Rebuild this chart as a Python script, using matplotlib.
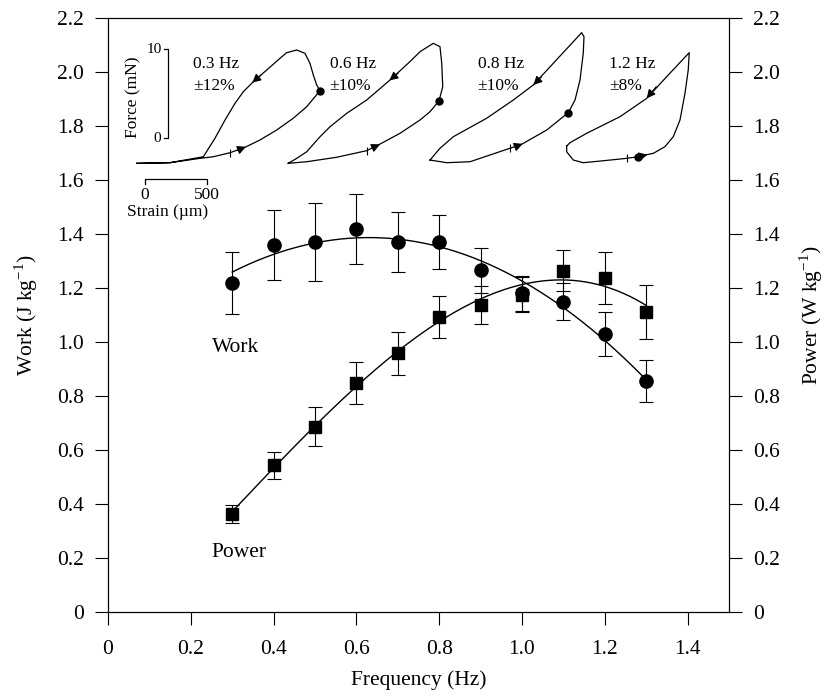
import numpy as np
import matplotlib
matplotlib.use('Agg')
import matplotlib.pyplot as plt

plt.rcParams['font.family'] = ['Liberation Serif', 'DejaVu Serif']
plt.rcParams['mathtext.fontset'] = 'custom'
plt.rcParams['mathtext.rm'] = 'Liberation Serif'

# Données principales
freq = [0.3, 0.4, 0.5, 0.6, 0.7, 0.8, 0.9, 1.0, 1.1, 1.2, 1.3]
work = [1.22, 1.36, 1.37, 1.42, 1.37, 1.37, 1.265, 1.18, 1.15, 1.03, 0.855]
work_err = [0.115, 0.13, 0.145, 0.13, 0.11, 0.10, 0.085, 0.065, 0.07, 0.08, 0.077]
power = [0.363, 0.544, 0.686, 0.849, 0.958, 1.091, 1.137, 1.175, 1.264, 1.236, 1.112]
power_err = [0.035, 0.05, 0.072, 0.077, 0.079, 0.078, 0.07, 0.065, 0.075, 0.096, 0.10]

x_ticks = [0, 0.2, 0.4, 0.6, 0.8, 1.0, 1.2, 1.4]
x_ticklabels = ['0', '0.2', '0.4', '0.6', '0.8', '1.0', '1.2', '1.4']
y_ticks = [0, 0.2, 0.4, 0.6, 0.8, 1.0, 1.2, 1.4, 1.6, 1.8, 2.0, 2.2]
y_ticklabels = ['0', '0.2', '0.4', '0.6', '0.8', '1.0', '1.2', '1.4', '1.6', '1.8', '2.0', '2.2']

# Boucles force-déformation (strain en µm, force en mN)
loop_03_strain = [-67, 200, 441, 548, 682, 802, 922, 1056, 1189, 1297, 1404, 1377, 1350, 1323,
                  1283, 1217, 1136, 1083, 976, 869, 789, 722, 642, 561, 468, 200, -67]
loop_03_force = [-2.81, -2.74, -2.25, -2.07, -1.62, -1.01, -0.19, 0.93, 2.25, 3.55, 5.35, 5.99, 7.11, 8.43,
                 9.55, 9.92, 9.62, 8.99, 7.67, 6.36, 5.24, 3.93, 2.06, 0.0, -2.07, -2.74, -2.81]
loop_06_strain = [1149, 1297, 1537, 1778, 1871, 2045, 2206, 2286, 2358, 2388, 2380, 2366, 2312,
                  2206, 2125, 1965, 1778, 1618, 1484, 1404, 1297, 1217, 1149]
loop_06_force = [-2.81, -2.63, -2.13, -1.39, -0.75, 0.56, 2.06, 2.99, 4.19, 5.80, 8.43, 10.29, 10.67,
                 9.73, 8.61, 6.55, 4.30, 2.81, 1.30, 0.18, -1.51, -2.25, -2.81]
loop_08_strain = [2286, 2420, 2607, 2927, 3021, 3222, 3395, 3449, 3489, 3515, 3521, 3502, 3435,
                  3275, 3114, 2954, 2740, 2473, 2366, 2286]
loop_08_force = [-2.44, -2.74, -2.63, -1.12, -0.67, 0.93, 2.88, 4.30, 6.55, 9.55, 11.42, 11.87, 10.85,
                 8.43, 5.99, 4.30, 2.25, 0.18, -1.12, -2.44]
loop_12_strain = [3382, 3382, 3435, 3515, 3676, 3863, 3956, 4010, 4077, 4170, 4237, 4291, 4331,
                  4357, 4365, 4184, 4024, 3810, 3542, 3409, 3382]
loop_12_force = [-0.87, -1.51, -2.44, -2.74, -2.52, -2.25, -2.07, -1.88, -1.69, -0.94, 0.18, 2.06, 5.06,
                 7.67, 9.62, 6.92, 4.49, 2.43, 0.56, -0.49, -0.87]

loops = [(loop_03_strain, loop_03_force), (loop_06_strain, loop_06_force),
         (loop_08_strain, loop_08_force), (loop_12_strain, loop_12_force)]
loop_labels = ['0.3 Hz\n±12%', '0.6 Hz\n±10%', '0.8 Hz\n±10%', '1.2 Hz\n±8%']
label_strain = [385, 1480, 2667, 3723]

dots_strain = [1404, 2358, 3395, 3956]
dots_force = [5.35, 4.19, 2.88, -2.07]
marks_strain = [682, 1778, 2927, 3863]
marks_force = [-1.62, -1.39, -1.12, -2.25]
# flèches (queue, pointe)
arrows = [((740, -1.35), (810, -0.95)), ((930, 7.1), (860, 6.25)),
          ((1820, -1.1), (1885, -0.68)), ((2030, 7.3), (1960, 6.5)),
          ((2970, -0.95), (3030, -0.62)), ((3180, 6.9), (3115, 6.0)),
          ((3960, -2.06), (4030, -1.84)), ((4100, 5.8), (4024, 4.49))]

fig = plt.figure(figsize=(8.38, 6.96), dpi=100)
ax = fig.add_axes([108 / 838, 1 - 612 / 696, 621 / 838, 594 / 696])
ax2 = ax.twinx()

fs = 15.5
xs = np.linspace(0.3, 1.3, 200)
work_fit = np.polyval(np.polyfit(freq, work, 2), xs)
power_fit = np.polyval(np.polyfit(freq, power, 3), xs)

ax.plot(xs, work_fit, color='k', lw=1.0)
ax.errorbar(freq, work, yerr=work_err, fmt='o', color='k', ms=9.5, capsize=4.7,
            elinewidth=0.8, capthick=0.8)
ax2.plot(xs, power_fit, color='k', lw=1.0)
ax2.errorbar(freq, power, yerr=power_err, fmt='s', color='k', ms=8.4, capsize=4.7,
             elinewidth=0.8, capthick=0.8)

ax.text(0.251, 0.978, 'Work', fontsize=fs, va='center', ha='left')
ax.text(0.251, 0.222, 'Power', fontsize=fs, va='center', ha='left')

for a in (ax, ax2):
    a.set_xlim(0, 1.5)
    a.set_ylim(0, 2.2)
    a.set_yticks(y_ticks)
    a.set_yticklabels(y_ticklabels, fontsize=fs)
    a.tick_params(direction='out', length=9.5, width=0.8, pad=8)
    for s in a.spines.values():
        s.set_linewidth(0.8)
ax.set_xticks(x_ticks)
ax.set_xticklabels(x_ticklabels, fontsize=fs)
ax.tick_params(axis='x', pad=11)

ax.set_xlabel('Frequency (Hz)', fontsize=fs, labelpad=8)
ax.set_ylabel(r'Work (J kg$^{\mathregular{-1}}$)', fontsize=fs, labelpad=12)
ax2.set_ylabel(r'Power (W kg$^{\mathregular{-1}}$)', fontsize=fs, labelpad=12)

# Encart : boucles de travail
ins = fig.add_axes([120 / 838, 1 - 230 / 696, 610 / 838, 210 / 696])
ins.set_xlim(-200.5, 4692)
ins.set_ylim(-10.30, 13.29)
ins.axis('off')

for (st, fo), lab, ls in zip(loops, loop_labels, label_strain):
    ins.plot(st, fo, color='k', lw=0.9)
    ins.text(ls, 7.1, lab, fontsize=12.5, va='center', ha='left', linespacing=1.45)
ins.plot(dots_strain, dots_force, 'o', color='k', ms=5)
ins.plot(marks_strain, marks_force, '|', color='k', ms=6, mew=0.8)
for tail, tip in arrows:
    ins.annotate('', xy=tip, xytext=tail,
                 arrowprops=dict(arrowstyle='-|>', color='k', lw=0.8,
                                 mutation_scale=13, shrinkA=0, shrinkB=0))

# barres d'échelle
ins.plot([150, 187, 187, 150], [10, 10, 0, 0], color='k', lw=0.9)
ins.plot([0, 0, 500, 500], [-5.14, -4.61, -4.61, -5.14], color='k', lw=0.9)
ins.text(136, 10.0, '10', fontsize=11, ha='right', va='center')
ins.text(125, 0, '0', fontsize=11, ha='right', va='center')
ins.text(-96, 4.64, 'Force (mN)', fontsize=12.5, rotation=90, ha='center', va='center')
ins.text(0, -6.37, '0', fontsize=12.5, ha='center', va='center')
ins.text(500, -6.37, '500', fontsize=12.5, ha='center', va='center')
ins.text(184, -8.28, 'Strain (µm)', fontsize=12.5, ha='center', va='center')

fig.savefig('out.png', dpi=100)
